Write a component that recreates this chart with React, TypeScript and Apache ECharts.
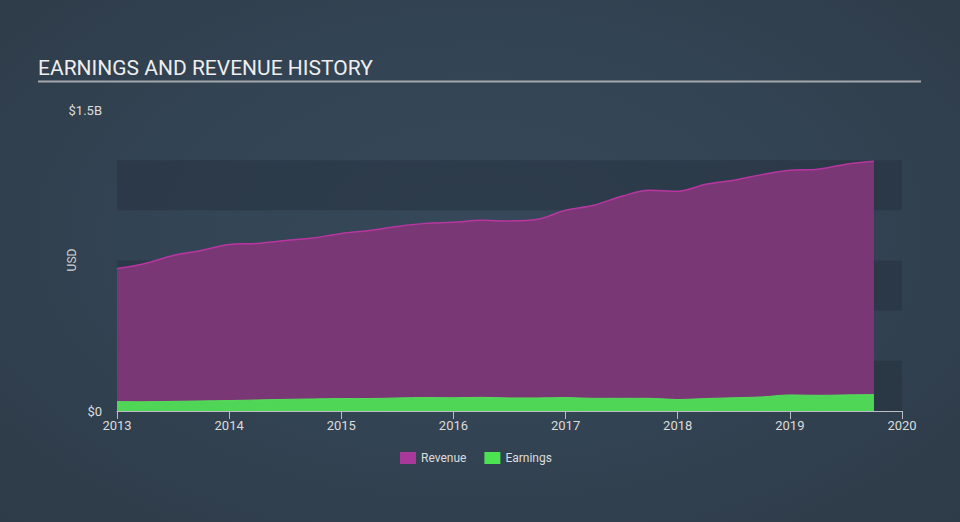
import React, { useEffect, useRef } from "react";
import * as echarts from "echarts";

// Quarter-end periods (YYYY-MM)
const periods: string[] = [
  "2012-12", "2013-03", "2013-06", "2013-09",
  "2013-12", "2014-03", "2014-06", "2014-09",
  "2014-12", "2015-03", "2015-06", "2015-09",
  "2015-12", "2016-03", "2016-06", "2016-09",
  "2016-12", "2017-03", "2017-06", "2017-09",
  "2017-12", "2018-03", "2018-06", "2018-09",
  "2018-12", "2019-03", "2019-06", "2019-09",
];

// USD billions
const revenue: number[] = [
  0.71, 0.735, 0.775, 0.8,
  0.83, 0.835, 0.85, 0.862,
  0.885, 0.9, 0.92, 0.935,
  0.94, 0.95, 0.947, 0.955,
  1.0, 1.025, 1.07, 1.1,
  1.095, 1.13, 1.15, 1.178,
  1.2, 1.205, 1.23, 1.245,
];

const earnings: number[] = [
  0.047, 0.046, 0.048, 0.05,
  0.052, 0.055, 0.058, 0.06,
  0.062, 0.062, 0.065, 0.067,
  0.066, 0.068, 0.065, 0.065,
  0.067, 0.063, 0.063, 0.063,
  0.057, 0.062, 0.066, 0.07,
  0.08, 0.078, 0.08, 0.082,
];

const xTicks: number[] = [2013, 2014, 2015, 2016, 2017, 2018, 2019, 2020];
const yMax = 1.5;

const toYear = (p: string) => {
  const [y, m] = p.split("-").map(Number);
  return y + m / 12;
};

export default function App() {
  const ref = useRef<HTMLDivElement>(null);
  useEffect(() => {
    if (!ref.current) return;
    const chart = echarts.init(ref.current, undefined, { renderer: "svg" });
    const xs = periods.map(toYear);
    chart.setOption({
      animation: false,
      backgroundColor: "transparent",
      textStyle: { fontFamily: "Roboto, 'Noto Sans', sans-serif" },
      grid: { left: 117, right: 58, top: 110, bottom: 111, containLabel: false },
      graphic: [
        {
          type: "text",
          left: 38,
          top: 57,
          style: {
            text: "EARNINGS AND REVENUE HISTORY",
            fill: "#eeeeee",
            font: "21px Roboto, sans-serif",
          },
        },
        {
          type: "line",
          shape: { x1: 38, y1: 81.5, x2: 921, y2: 81.5 },
          style: { stroke: "#a3a8ad", lineWidth: 2 },
        },
        {
          type: "text",
          x: 72,
          y: 260,
          rotation: Math.PI / 2,
          style: {
            text: "USD",
            fill: "#d0d0d0",
            font: "12px Roboto, sans-serif",
            align: "center",
            verticalAlign: "middle",
          },
        },
      ],
      legend: {
        left: 400,
        top: 452,
        padding: 0,
        icon: "rect",
        itemWidth: 16,
        itemHeight: 12,
        itemGap: 18,
        textStyle: { color: "#dddddd", fontSize: 12 },
        data: ["Revenue", "Earnings"],
      },
      xAxis: {
        type: "value",
        min: xTicks[0],
        max: xTicks[xTicks.length - 1],
        interval: 1,
        axisLine: { show: true, lineStyle: { color: "#b9bec4", width: 1 } },
        axisTick: { show: true, length: 8, lineStyle: { color: "#b9bec4" } },
        axisLabel: {
          color: "#dcdcdc",
          fontSize: 13,
          margin: 8,
          formatter: (v: number) => String(v),
        },
        splitLine: { show: false },
      },
      yAxis: {
        type: "value",
        min: 0,
        max: yMax,
        interval: 0.25,
        axisLine: { show: false },
        axisTick: { show: false },
        axisLabel: {
          color: "#dcdcdc",
          fontSize: 13,
          margin: 15,
          formatter: (v: number) => (v === 0 ? "$0" : v === yMax ? "$1.5B" : ""),
        },
        splitLine: { show: false },
        splitArea: {
          show: true,
          areaStyle: { color: ["rgba(36,47,60,0.45)", "rgba(0,0,0,0)"] },
        },
      },
      series: [
        {
          name: "Revenue",
          type: "line",
          data: xs.map((x, i) => [x, revenue[i]]),
          smooth: 0.35,
          symbol: "none",
          color: "#a8389a",
          lineStyle: { color: "#b8369f", width: 1.5 },
          areaStyle: { color: "#7a3775", opacity: 1 },
          z: 2,
        },
        {
          name: "Earnings",
          type: "line",
          data: xs.map((x, i) => [x, earnings[i]]),
          smooth: 0.35,
          symbol: "none",
          color: "#4de252",
          lineStyle: { color: "#56dc5c", width: 1 },
          areaStyle: { color: "#50d657", opacity: 1 },
          z: 3,
        },
      ],
    });
    return () => chart.dispose();
  }, []);
  return (
    <div
      style={{
        position: "absolute",
        left: 0,
        top: 0,
        width: 960,
        height: 522,
        background:
          "radial-gradient(ellipse at 50% 45%, #364859 0%, #334454 45%, #2e3b48 100%)",
      }}
    >
      <div ref={ref} style={{ width: 960, height: 522 }} />
    </div>
  );
}
